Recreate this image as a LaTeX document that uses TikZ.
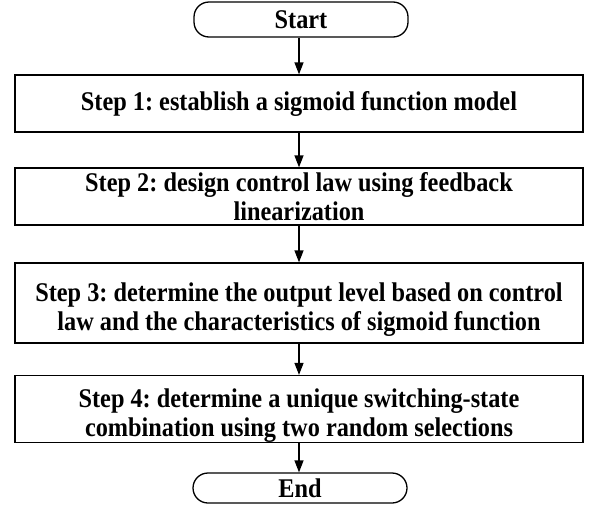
\documentclass[tikz,border=0pt]{standalone}
\usepackage{fontspec}
\setmainfont[FakeStretch=0.9]{Liberation Serif}
\usetikzlibrary{arrows.meta}
\tikzset{
  stepbox/.style={draw, line width=1.3pt, minimum width=568pt, align=center,
    inner sep=0pt, font=\bfseries\fontsize{27}{29}\selectfont},
  term/.style={draw, line width=1.3pt, minimum width=214pt, rounded corners=15pt,
    inner sep=0pt, font=\bfseries\fontsize{27}{29}\selectfont},
  flow/.style={line width=1.3pt, -{Triangle[length=12pt,width=9pt]}}
}
% strut that pushes a two-line label slightly lower in its box
\newcommand{\lowerstrut}{\rule{0pt}{32pt}}
\begin{document}
\frenchspacing
\begin{tikzpicture}[x=1pt,y=-1pt]
\useasboundingbox (0,0) rectangle (591,509);
\node[term, minimum height=35pt] (start) at (301,19.5) {Start};
\node[stepbox, minimum height=57pt] (s1) at (299,103.5) {Step 1: establish a sigmoid function model};
\node[stepbox, minimum height=57pt] (s2) at (299,196.5) {Step 2: design control law using feedback\\linearization};
\node[stepbox, minimum height=80pt] (s3) at (299,303) {\lowerstrut Step 3: determine the output level based on control\\law and the characteristics of sigmoid function};
\node[stepbox, minimum height=56pt] (s4) at (299,409) {\lowerstrut Step 4: determine a unique switching-state\\combination using two random selections};
\node[term, minimum height=30pt] (end) at (300,488) {End};
\draw[flow] (start.south -| s1.north) -- (s1.north);
\draw[flow] (s1) -- (s2);
\draw[flow] (s2) -- (s3);
\draw[flow] (s3) -- (s4);
\draw[flow] (s4.south) -- (s4.south |- end.north);
\end{tikzpicture}
\end{document}
